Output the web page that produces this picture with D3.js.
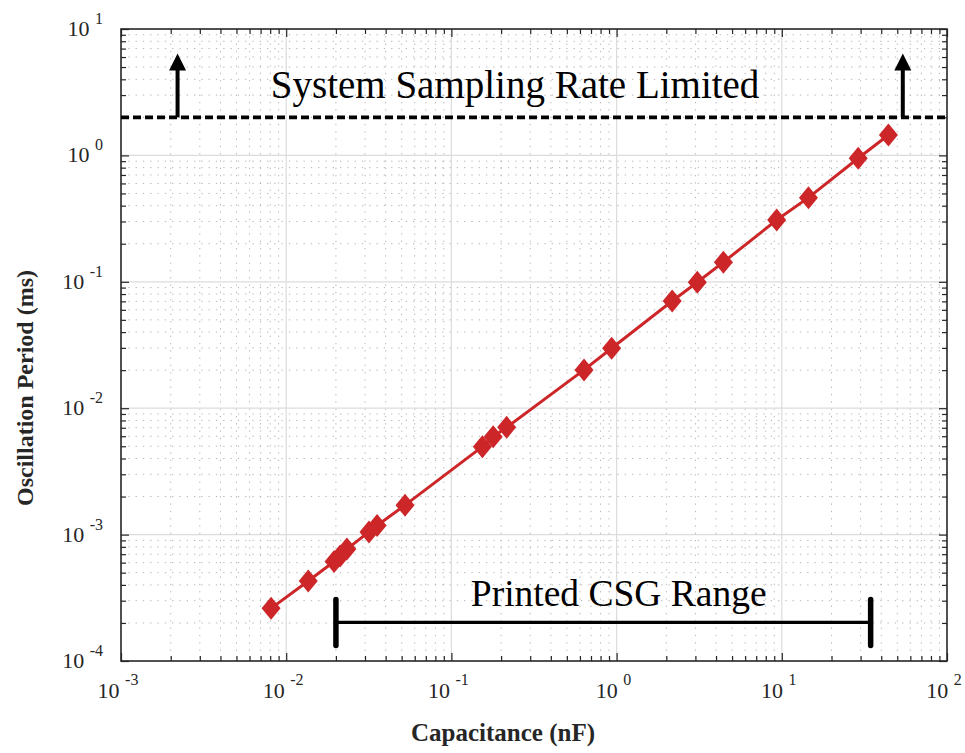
<!DOCTYPE html>
<html>
<head>
<meta charset="utf-8">
<script src="https://cdn.jsdelivr.net/npm/d3@7"></script>
<style>
  html, body { margin: 0; padding: 0; background: #fff; }
  svg { display: block; }
  text { font-family: "Liberation Serif", "Times New Roman", serif; }
</style>
</head>
<body>
<svg id="chart" width="965" height="753"></svg>
<script>
// Measured capacitance (nF) vs. oscillation period (ms)
const capacitance = [0.0081, 0.0136, 0.0195, 0.0212, 0.0233, 0.0317, 0.0355, 0.0524,
                     0.154, 0.179, 0.216, 0.635, 0.933, 2.17, 3.08, 4.43, 9.31, 14.5, 29.0, 44.2];
const period = [2.61e-4, 4.30e-4, 6.12e-4, 6.77e-4, 7.69e-4, 1.05e-3, 1.18e-3, 1.71e-3,
                4.96e-3, 5.95e-3, 7.06e-3, 0.0201, 0.0298, 0.0705, 0.0991, 0.143, 0.308, 0.463, 0.949, 1.45];

// Decade ticks on both axes
const xTickExponents = [-3, -2, -1, 0, 1, 2];
const yTickExponents = [-4, -3, -2, -1, 0, 1];

// Sampling-rate limit (ms) and where its arrows stand (nF)
const samplingLimit = 2;
const limitArrowX = [0.0022, 54];
const limitArrowTop = 6.4;
const limitLabel = "System Sampling Rate Limited";
const limitLabelPos = [0.243, 2.85];

// Printed CSG capacitance range (nF)
const csgRange = [0.02, 34.5];
const csgLevel = 2.02e-4;
const csgLabel = "Printed CSG Range";
const csgLabelPos = [1.03, 2.72e-4];

const xTitle = "Capacitance (nF)";
const yTitle = "Oscillation Period (ms)";

const margin = { left: 121, top: 29, right: 18, bottom: 92 };
const W = 965, H = 753;
const pw = W - margin.left - margin.right;   // 826
const ph = H - margin.top - margin.bottom;   // 632

const svg = d3.select("#chart");
const g = svg.append("g").attr("transform", `translate(${margin.left},${margin.top})`);

const x = d3.scaleLog().domain([1e-3, 1e2]).range([0, pw]);
const y = d3.scaleLog().domain([1e-4, 1e1]).range([ph, 0]);

const axisColor = "#262626";
const red = "#CD2629";

// Minor / major tick values for the log axes
function minorVals(domain) {
  const lo = Math.log10(domain[0]), hi = Math.log10(domain[1]);
  const out = [];
  for (let e = lo; e < hi; e++) for (let k = 2; k <= 9; k++) out.push(k * Math.pow(10, e));
  return out;
}
const xMinor = minorVals(x.domain());
const yMinor = minorVals(y.domain());
const xMajor = xTickExponents.map(e => Math.pow(10, e));
const yMajor = yTickExponents.map(e => Math.pow(10, e));

// Grid: dotted minor lines, faint solid major lines
const grid = g.append("g");
grid.selectAll(".gxm").data(xMinor).join("line")
  .attr("x1", d => x(d)).attr("x2", d => x(d)).attr("y1", 0).attr("y2", ph)
  .attr("stroke", "#b4b4b4").attr("stroke-width", 1).attr("stroke-dasharray", "1.3 6");
grid.selectAll(".gym").data(yMinor).join("line")
  .attr("y1", d => y(d)).attr("y2", d => y(d)).attr("x1", 0).attr("x2", pw)
  .attr("stroke", "#b4b4b4").attr("stroke-width", 1).attr("stroke-dasharray", "1.3 6");
grid.selectAll(".gxM").data(xMajor.slice(1, -1)).join("line")
  .attr("x1", d => x(d)).attr("x2", d => x(d)).attr("y1", 0).attr("y2", ph)
  .attr("stroke", "#dcdcdc").attr("stroke-width", 1.2);
grid.selectAll(".gyM").data(yMajor.slice(1, -1)).join("line")
  .attr("y1", d => y(d)).attr("y2", d => y(d)).attr("x1", 0).attr("x2", pw)
  .attr("stroke", "#dcdcdc").attr("stroke-width", 1.2);

// Inward ticks on all four sides, built with d3 axes
function styleAxis(sel) {
  sel.select(".domain").remove();
  sel.selectAll("line").attr("stroke", axisColor).attr("stroke-width", 1.2);
  sel.selectAll("text").remove();
}
const majorLen = 8, minorLen = 5;
g.append("g").attr("transform", `translate(0,${ph})`)
  .call(d3.axisTop(x).tickValues(xMajor).tickSize(majorLen).tickFormat("")).call(styleAxis);
g.append("g").attr("transform", `translate(0,${ph})`)
  .call(d3.axisTop(x).tickValues(xMinor).tickSize(minorLen).tickFormat("")).call(styleAxis);
g.append("g")
  .call(d3.axisBottom(x).tickValues(xMajor).tickSize(majorLen).tickFormat("")).call(styleAxis);
g.append("g")
  .call(d3.axisBottom(x).tickValues(xMinor).tickSize(minorLen).tickFormat("")).call(styleAxis);
g.append("g")
  .call(d3.axisRight(y).tickValues(yMajor).tickSize(majorLen).tickFormat("")).call(styleAxis);
g.append("g")
  .call(d3.axisRight(y).tickValues(yMinor).tickSize(minorLen).tickFormat("")).call(styleAxis);
g.append("g").attr("transform", `translate(${pw},0)`)
  .call(d3.axisLeft(y).tickValues(yMajor).tickSize(majorLen).tickFormat("")).call(styleAxis);
g.append("g").attr("transform", `translate(${pw},0)`)
  .call(d3.axisLeft(y).tickValues(yMinor).tickSize(minorLen).tickFormat("")).call(styleAxis);

// Axes box
g.append("rect").attr("x", 0).attr("y", 0).attr("width", pw).attr("height", ph)
  .attr("fill", "none").attr("stroke", axisColor).attr("stroke-width", 1.6);

// Tick labels: 10 with a raised exponent
const xl = g.append("g");
xTickExponents.forEach(e => {
  const t = xl.append("text")
    .attr("x", x(Math.pow(10, e)) - 3).attr("y", ph + 37)
    .attr("text-anchor", "middle").attr("fill", axisColor).attr("font-size", 22);
  t.append("tspan").text("10 ");
  t.append("tspan").attr("dy", -13).attr("font-size", 16).text(String(e));
});
const yl = g.append("g");
yTickExponents.forEach(e => {
  const t = yl.append("text")
    .attr("x", -18).attr("y", y(Math.pow(10, e)) + 7)
    .attr("text-anchor", "end").attr("fill", axisColor).attr("font-size", 22);
  t.append("tspan").text("10 ");
  t.append("tspan").attr("dy", -12).attr("font-size", 16).text(String(e));
});

// Axis titles
svg.append("text").attr("x", 503).attr("y", 741).attr("text-anchor", "middle")
  .attr("font-size", 25).attr("font-weight", "bold").attr("fill", axisColor).text(xTitle);
svg.append("text").attr("transform", "translate(33,388) rotate(-90)").attr("text-anchor", "middle")
  .attr("font-size", 24).attr("font-weight", "bold").attr("fill", axisColor).text(yTitle);

// Sampling limit: dashed line with upward arrows
g.append("line").attr("x1", 0).attr("x2", pw)
  .attr("y1", y(samplingLimit)).attr("y2", y(samplingLimit))
  .attr("stroke", "#000").attr("stroke-width", 3.6).attr("stroke-dasharray", "8 4");
limitArrowX.forEach(v => {
  const ax = x(v), yb = y(samplingLimit), yt = y(limitArrowTop);
  g.append("line").attr("x1", ax).attr("x2", ax).attr("y1", yb).attr("y2", yt + 12)
    .attr("stroke", "#000").attr("stroke-width", 4);
  g.append("path").attr("d", `M${ax},${yt} L${ax - 8.5},${yt + 17} L${ax + 8.5},${yt + 17} Z`)
    .attr("fill", "#000");
});
g.append("text").attr("x", x(limitLabelPos[0])).attr("y", y(limitLabelPos[1]))
  .attr("text-anchor", "middle").attr("font-size", 39).attr("fill", "#000").text(limitLabel);

// Printed CSG range bracket
const cy = y(csgLevel);
g.append("line").attr("x1", x(csgRange[0])).attr("x2", x(csgRange[1])).attr("y1", cy).attr("y2", cy)
  .attr("stroke", "#000").attr("stroke-width", 3.4);
csgRange.forEach(v => {
  g.append("line").attr("x1", x(v)).attr("x2", x(v)).attr("y1", cy - 23).attr("y2", cy + 23)
    .attr("stroke", "#000").attr("stroke-width", 5.5).attr("stroke-linecap", "round");
});
g.append("text").attr("x", x(csgLabelPos[0])).attr("y", y(csgLabelPos[1]))
  .attr("text-anchor", "middle").attr("font-size", 37.5).attr("fill", "#000").text(csgLabel);

// Data: line and diamond markers
const pts = capacitance.map((c, i) => [c, period[i]]);
g.append("path").datum(pts)
  .attr("d", d3.line().x(d => x(d[0])).y(d => y(d[1])))
  .attr("fill", "none").attr("stroke", red).attr("stroke-width", 3);
g.selectAll(".mk").data(pts).join("path")
  .attr("d", d => {
    const px = x(d[0]), py = y(d[1]), hw = 9.5, hh = 11.5;
    return `M${px},${py - hh} L${px + hw},${py} L${px},${py + hh} L${px - hw},${py} Z`;
  })
  .attr("fill", red);
</script>
</body>
</html>
